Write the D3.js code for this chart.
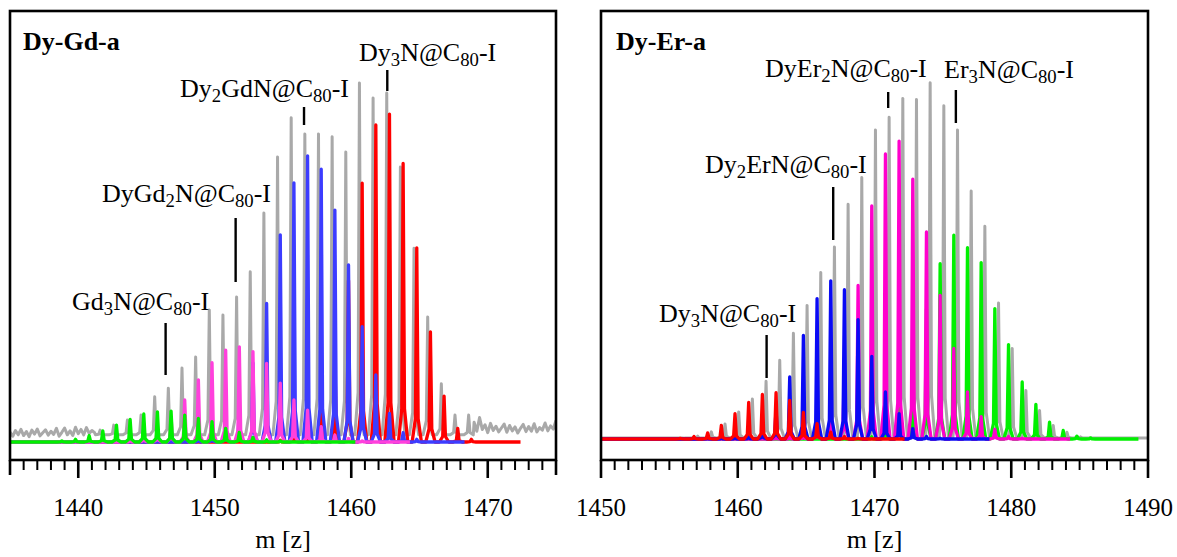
<!DOCTYPE html>
<html><head><meta charset="utf-8">
<script src="https://cdn.jsdelivr.net/npm/d3@7"></script>
<style>
body{margin:0;background:#fff;}
svg{display:block;}
text{font-family:"Liberation Serif","Times New Roman",serif;fill:#000;}
</style>
</head><body>
<svg id="chart" width="1177" height="557"></svg>
<script>
// ---------------- DATA ----------------
const panelTitles = ["Dy-Gd-a", "Dy-Er-a"];
const axisTitle = "m [z]";
const leftDomain = [1435, 1475];
const rightDomain = [1450, 1490];
const leftMajorTicks = [1440, 1450, 1460, 1470];
const rightMajorTicks = [1450, 1460, 1470, 1480, 1490];

// annotation labels (subscripts marked _{n}) and the m/z they point at
const leftLabels = ["Gd_{3}N@C_{80}-I", "DyGd_{2}N@C_{80}-I", "Dy_{2}GdN@C_{80}-I", "Dy_{3}N@C_{80}-I"];
const leftLabelMz = [1446.4, 1451.53, 1456.54, 1462.64];
const rightLabels = ["Dy_{3}N@C_{80}-I", "Dy_{2}ErN@C_{80}-I", "DyEr_{2}N@C_{80}-I", "Er_{3}N@C_{80}-I"];
const rightLabelMz = [1462.11, 1466.98, 1471.0, 1475.95];

// Left panel (Dy-Gd-a): experimental (gray) peaks [m/z, rel. intensity]
const leftExpPeaks = [[1441.6,3.3],[1442.6,4.7],[1443.6,6.1],[1444.6,7.5],[1445.6,12.6],[1446.6,15.0],[1447.6,20.6],[1448.6,23.7],[1449.6,36.8],[1450.6,35.4],[1451.6,40.4],[1452.6,47.4],[1453.6,63.8],[1454.6,79.4],[1455.6,90.3],[1456.6,85.8],[1457.6,85.8],[1458.6,85.0],[1459.6,80.8],[1460.6,100],[1461.6,95.8],[1462.6,97.2],[1463.6,76.6],[1464.6,54.0],[1465.6,34.8],[1466.6,16.2],[1467.6,7.5],[1468.6,7.5]];
// baseline noise of the experimental trace (read every 0.2 m/z)
const leftNoiseLow = [2.8,1.6,3.2,2.0,3.5,1.8,2.9,1.5,3.3,2.2,3.6,1.7,2.6,3.4,1.9,3.0,2.1,3.8,1.6,2.7,3.9,2.0,3.1,1.8,4.1,2.3,3.5,2.0,4.0,2.4,3.2,2.6];
const leftNoiseHigh = [5.5,3.0,6.8,3.5,4.8,2.6,5.2,3.2,4.4,2.8,3.9,5.0,2.7,4.6,3.1,4.2,2.5,3.8,4.9,2.9,4.3,3.0,5.1,2.8,4.0,3.3,5.3,3.1,4.5,3.6,6.0];
// simulated patterns
const leftGd3N = [[1438.8,0.3],[1439.8,0.75],[1440.8,1.75],[1441.8,3.1],[1442.8,4.7],[1443.8,6.3],[1444.8,7.8],[1445.8,8.4],[1446.8,8.6],[1447.8,7.5],[1448.8,6.6],[1449.8,5.7],[1450.8,3.8],[1451.8,2.7],[1452.8,1.3],[1453.8,0.6],[1454.8,0.3]];
const leftDyGd2N = [[1443.8,0.5],[1444.8,1.8],[1445.8,4],[1446.8,7],[1447.8,11.7],[1448.8,17.3],[1449.8,22.1],[1450.8,25.6],[1451.8,26.5],[1452.8,25.2],[1453.8,21.9],[1454.8,16.4],[1455.8,11.7],[1456.8,8.9],[1457.8,4.3],[1458.8,1.9],[1459.8,1.0],[1460.8,0.3]];
const leftDy2GdN = [[1448.8,0.5],[1449.8,1.5],[1450.8,4],[1451.8,10],[1452.8,22],[1453.8,38.6],[1454.8,57.7],[1455.8,72.2],[1456.8,79.7],[1457.8,76.0],[1458.8,64.6],[1459.8,49.3],[1460.8,32.1],[1461.8,18.7],[1462.8,8.0],[1463.8,2.6],[1464.8,0.75]];
const leftDy3N = [[1454.8,0.5],[1455.8,1.5],[1456.8,4.9],[1457.8,12.2],[1458.8,24],[1459.8,45],[1460.8,72.1],[1461.8,88.3],[1462.8,91.3],[1463.8,77.6],[1464.8,54.1],[1465.8,30.7],[1466.8,12.8],[1467.8,3.8],[1468.8,0.75]];
// m/z where each simulated trace ends
const leftTraceEnds = {gd3n:1460.3, dygd2n:1464.3, dy2gdn:1468.3, dy3n:1472.4};

// Right panel (Dy-Er-a)
const rightExpPeaks = [[1456.07,0.2],[1457.07,0.8],[1458.07,2.0],[1459.07,4.2],[1460.07,7.6],[1461.07,11.2],[1462.07,16.2],[1463.07,22.1],[1464.07,29.7],[1465.07,37.5],[1466.07,46.7],[1467.07,53.9],[1468.07,65.9],[1469.07,73.4],[1470.07,86.7],[1471.07,90.3],[1472.07,95.6],[1473.07,95.3],[1474.07,100],[1475.07,93.5],[1476.07,86.7],[1477.07,69.6],[1478.07,59.7],[1479.07,38.2],[1480.07,25.4],[1481.07,13.6],[1482.07,8.0],[1483.07,3.8],[1484.07,1.9],[1485.07,0.6]];
const rightDy3N = [[1455.8,0.2],[1456.8,0.7],[1457.8,1.7],[1458.8,3.8],[1459.8,7.1],[1460.8,10.3],[1461.8,12.5],[1462.8,13.0],[1463.8,10.8],[1464.8,7.5],[1465.8,4.3],[1466.8,1.9],[1467.8,0.7],[1468.8,0.2]];
const rightDy2ErN = [[1457.8,0.2],[1458.8,0.3],[1459.8,0.4],[1460.8,1.0],[1461.8,2.9],[1462.8,8.4],[1463.8,17.4],[1464.8,29.1],[1465.8,39.4],[1466.8,44.4],[1467.8,41.9],[1468.8,33.5],[1469.8,23.2],[1470.8,13.2],[1471.8,7.1],[1472.8,2.9],[1473.8,0.7],[1474.8,0.2]];
const rightDyEr2N = [[1462.8,0.2],[1463.8,0.6],[1464.8,1.7],[1465.8,4.5],[1466.8,9.8],[1467.8,22.5],[1468.8,43.1],[1469.8,65.4],[1470.8,80.0],[1471.8,83.6],[1472.8,72.9],[1473.8,58.1],[1474.8,40.3],[1475.8,25.4],[1476.8,13.2],[1477.8,6.3],[1478.8,2.7],[1479.8,0.7],[1480.8,0.2]];
const rightEr3N = [[1469.8,0.6],[1470.8,2.2],[1471.8,9.7],[1472.8,21.1],[1473.8,36.5],[1474.8,49.2],[1475.8,57.2],[1476.8,53.7],[1477.8,49.5],[1478.8,36.6],[1479.8,26.5],[1480.8,16.0],[1481.8,9.7],[1482.8,4.7],[1483.8,2.4],[1484.8,0.8],[1485.8,0.3]];
const rightTraceEnds = {dy3n:1472.2, dy2ern:1478.4, dyer2n:1484.3, er3n:1489.3};

// ---------------- LAYOUT ----------------
const svg = d3.select("#chart");
const frameTop = 11, axisY = 460;
const colors = {gray:"#a9a9a9", red:"#ff0000", blueL:"#3c3cff", blueR:"#0a0af5", magL:"#ff40dc", magR:"#ff00cc", green:"#00f000"};
// peak glyph: half-width at base and at shoulder (m/z), shoulder height fraction
const peakHW = 0.34, shoulderHW = 0.1, shoulderFrac = 0.12;

function pushPeak(pts, m, v, base) {
  pts.push([m - peakHW, base], [m - shoulderHW, base + (v - base) * shoulderFrac], [m, v],
           [m + shoulderHW, base + (v - base) * shoulderFrac], [m + peakHW, base]);
}
function tracePoints(peaks, start, end, base) {
  const pts = [[start, base]];
  peaks.forEach(([m, v]) => pushPeak(pts, m, v, base));
  pts.push([end, base]);
  return pts;
}

function drawLabel(g, str, x, y, size) {
  const t = g.append("text").attr("x", x).attr("y", y).style("font-size", size + "px");
  const parts = str.split(/_\{(\d+)\}/);
  parts.forEach((p, i) => {
    if (p === "") return;
    const isSub = i % 2 === 1;
    const ts = t.append("tspan").text(p);
    if (isSub) ts.style("font-size", (size * 0.72) + "px").attr("dy", 5);
    else if (i > 0) ts.attr("dy", -5);
  });
  return t;
}

function panel(cfg) {
  const x = d3.scaleLinear().domain(cfg.domain).range([cfg.x0, cfg.x1]);
  const y = d3.scaleLinear().domain([0, 100]).range([cfg.base, cfg.y100]);
  const g = svg.append("g");
  const clipId = "clip" + cfg.id;
  svg.append("clipPath").attr("id", clipId).append("rect")
    .attr("x", cfg.x0).attr("y", frameTop).attr("width", cfg.x1 - cfg.x0).attr("height", axisY - frameTop);
  const plot = g.append("g").attr("clip-path", `url(#${clipId})`);
  const line = d3.line().x(d => x(d[0])).y(d => y(d[1]));
  cfg.traces.forEach(tr => {
    plot.append("path").attr("d", line(tr.pts)).attr("fill", "none")
      .attr("stroke", tr.color).attr("stroke-width", tr.width || 3.3)
      .attr("stroke-linejoin", "round").attr("stroke-linecap", "butt");
  });
  // frame
  g.append("rect").attr("x", cfg.x0).attr("y", frameTop).attr("width", cfg.x1 - cfg.x0)
    .attr("height", axisY - frameTop).attr("fill", "none").attr("stroke", "#000").attr("stroke-width", 2.6);
  // ticks
  const ticks = d3.range(cfg.domain[0], cfg.domain[1] + 0.5, 1);
  ticks.forEach(v => {
    const major = cfg.majors.includes(v);
    const edge = v === cfg.domain[0] || v === cfg.domain[1];
    const len = major ? 18 : (edge ? 15 : 10);
    g.append("line").attr("x1", x(v)).attr("x2", x(v)).attr("y1", axisY).attr("y2", axisY + len)
      .attr("stroke", "#000").attr("stroke-width", major || edge ? 2.6 : 2);
  });
  cfg.majors.forEach(v => {
    g.append("text").attr("x", x(v)).attr("y", 516).attr("text-anchor", "middle")
      .style("font-size", "25px").text(v);
  });
  g.append("text").attr("x", (cfg.x0 + cfg.x1) / 2).attr("y", 548).attr("text-anchor", "middle")
    .style("font-size", "26px").text(axisTitle);
  // title
  g.append("text").attr("x", cfg.titleX).attr("y", 50).style("font-size", "26px")
    .style("font-weight", "bold").text(cfg.title);
  // annotations
  cfg.labels.forEach((lab, i) => {
    const L = cfg.labelLayout[i];
    drawLabel(g, lab, L[0], L[1], 26);
    g.append("line").attr("x1", x(cfg.labelMz[i])).attr("x2", x(cfg.labelMz[i]))
      .attr("y1", L[2]).attr("y2", L[3]).attr("stroke", "#000").attr("stroke-width", 2.4);
  });
}

// left gray experimental trace: noise + peaks
const leftGrayPts = [];
leftNoiseLow.forEach((v, i) => leftGrayPts.push([leftDomain[0] + i * 0.2, v]));
leftExpPeaks.forEach(([m, v]) => pushPeak(leftGrayPts, m, v, 2.0));
leftNoiseHigh.forEach((v, i) => leftGrayPts.push([1469.0 + i * 0.2, v]));

panel({
  id: "L", domain: leftDomain, x0: 10, x1: 556, base: 442, y100: 83,
  majors: leftMajorTicks, title: panelTitles[0], titleX: 23,
  labels: leftLabels, labelMz: leftLabelMz,
  labelLayout: [[72, 310, 323, 375], [102, 202, 218, 282], [180, 97, 107, 125], [359, 61, 70, 91]],
  traces: [
    {pts: leftGrayPts, color: colors.gray, width: 3},
    {pts: tracePoints(leftDy3N, leftDomain[0], leftTraceEnds.dy3n, 0), color: colors.red},
    {pts: tracePoints(leftDy2GdN, leftDomain[0], leftTraceEnds.dy2gdn, 0), color: colors.blueL},
    {pts: tracePoints(leftDyGd2N, leftDomain[0], leftTraceEnds.dygd2n, 0), color: colors.magL},
    {pts: tracePoints(leftGd3N, leftDomain[0], leftTraceEnds.gd3n, 0), color: colors.green}
  ]
});

panel({
  id: "R", domain: rightDomain, x0: 601, x1: 1148, base: 439, y100: 82.7,
  majors: rightMajorTicks, title: panelTitles[1], titleX: 616,
  labels: rightLabels, labelMz: rightLabelMz,
  labelLayout: [[659, 322, 335, 378], [705, 173, 187, 240], [765, 77, 92, 108], [944, 78, 90, 123]],
  traces: [
    {pts: tracePoints(rightExpPeaks, rightDomain[0], rightDomain[1], 0.3), color: colors.gray, width: 3},
    {pts: tracePoints(rightEr3N, rightDomain[0], rightTraceEnds.er3n, 0), color: colors.green},
    {pts: tracePoints(rightDyEr2N, rightDomain[0], rightTraceEnds.dyer2n, 0), color: colors.magR},
    {pts: tracePoints(rightDy2ErN, rightDomain[0], rightTraceEnds.dy2ern, 0), color: colors.blueR},
    {pts: tracePoints(rightDy3N, rightDomain[0], rightTraceEnds.dy3n, 0), color: colors.red}
  ]
});
</script>
</body></html>
